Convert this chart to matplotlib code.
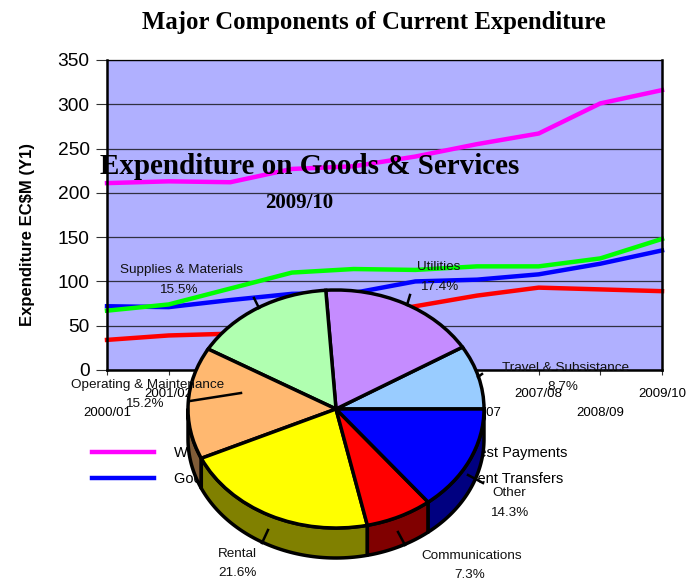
#!/usr/bin/env python
"""Current expenditure lines with the goods & services 3-D pie sitting on top."""

import numpy as np
import matplotlib
matplotlib.use("Agg")
import matplotlib.pyplot as plt
from matplotlib.lines import Line2D
from matplotlib.patches import Polygon, Wedge

#+++ Data
years = ["2000/01", "2001/02", "2002/03", "2003/04", "2004/05", "2005/06", "2006/07", "2007/08", "2008/09", "2009/10"]
wages = [211, 213, 212, 227, 230, 241, 255, 267, 301, 316]
goods = [72, 71, 79, 86, 87, 100, 102, 108, 120, 135]
transfers = [67, 74, 92, 110, 114, 113, 117, 117, 126, 148]
interest = [34, 39, 41, 50, 60, 72, 84, 93, 91, 89]

pie_labels = ["Travel & Subsistance", "Utilities", "Supplies & Materials", "Operating & Maintenance", "Rental", "Communications", "Other"]
pie_values = [8.7, 17.4, 15.5, 15.2, 21.6, 7.3, 14.3]
#---

#+++ Styling
W, H = 699, 582
SANS = "Liberation Sans"
SERIF = "Liberation Serif"
pie_colors = ["#99CCFF", "#C58CFF", "#B0FFB0", "#FFB870", "#FFFF00", "#FF0000", "#0000FF"]
side_colors = ["#4D6680", "#624680", "#588058", "#805C38", "#808000", "#800000", "#000080"]
# centre of each pie label in image pixels: (x, name y, percent x, percent y)
label_pos = [(566, 368, 563, 387), (439, 267, 439, 287), (181, 270, 178, 290), (148, 385, 144, 404),
             (237, 554, 237, 573), (472, 556, 470, 575), (509, 493, 509, 513)]
leaders = [((478, 377), (482, 374)), ((407, 305), (410, 295)), ((259, 308), (254, 298)), ((190, 401), (241, 393)),
           ((268, 530), (262, 543)), ((398, 532), (405, 545)), ((468, 475), (483, 483))]


def px_rect(left, top, right, bottom):
    return [left / W, 1 - bottom / H, (right - left) / W, (bottom - top) / H]


def px_text(x, y, s, **kw):
    fig.text(x / W, 1 - y / H, s, ha="center", va="center", **kw)
#---

#+++ Line chart
fig = plt.figure(figsize=(W / 100, H / 100), dpi=100)
ax = fig.add_axes(px_rect(107, 60, 662, 370), facecolor="#B0B0FF")
x = np.arange(len(years))
ax.plot(x, wages, color="#FF00FF", lw=3.2, solid_joinstyle="miter", label="Wages & Salaries", clip_on=False)
ax.plot(x, goods, color="#0000FF", lw=3.2, solid_joinstyle="miter", label="Goods & Services", clip_on=False)
ax.plot(x, interest, color="#FF0000", lw=3.2, solid_joinstyle="miter", label="Interest Payments", clip_on=False)
ax.plot(x, transfers, color="#00FF00", lw=3.2, solid_joinstyle="miter", label="Current Transfers", clip_on=False)

ax.set_xlim(0, len(years) - 1)
ax.set_ylim(0, 350)
ax.set_yticks(range(0, 351, 50))
ax.yaxis.grid(True, color="#303040", lw=0.9)
ax.set_axisbelow(True)
ax.tick_params(axis="y", labelsize=13.8, length=8, width=0.8, pad=4.5, color="#303030")
for tick_label in ax.get_yticklabels():
    tick_label.set_fontfamily(SANS)
ax.set_ylabel("Expenditure EC$M (Y1)", fontfamily=SANS, fontweight="bold", fontsize=12, labelpad=16.5, y=135 / 310)

# year labels are staggered on two rows, even ones on the lower row with a long tick
ax.set_xticks(x, years, fontfamily=SANS, fontsize=9.5)
ax.tick_params(axis="x", width=0.8, color="#303030")
for i, tick in enumerate(ax.xaxis.get_major_ticks()):
    tick.tick1line.set_markersize(20 if i % 2 == 0 else 7)
    tick.set_pad(23 if i % 2 == 0 else 9.5)

ax.spines["top"].set_linewidth(0.9)
for side in ("left", "right", "bottom"):
    ax.spines[side].set_linewidth(1.8)

ax.legend(loc="upper left", bbox_to_anchor=(-15 / 555, -0.245), ncol=2, frameon=False,
          prop={"family": SANS, "size": 10.5}, handlelength=4.25, handletextpad=1.35, columnspacing=5.2,
          labelspacing=0.82, borderaxespad=0, borderpad=0)

px_text(374, 23, "Major Components of Current Expenditure", family=SERIF, weight="bold", fontsize=17.8)
px_text(310, 166, "Expenditure on Goods & Services", family=SERIF, weight="bold", fontsize=21)
px_text(299, 203, "2009/10", family=SERIF, weight="bold", fontsize=15)
#---

#+++ Pie: unit circle stretched to an ellipse by its axes, with a side wall below
rx, ry, depth = 148, 119, 30
cx, cy = 336, 409
pie_ax = fig.add_axes(px_rect(cx - rx - 3, cy - ry - 3, cx + rx + 3, cy + ry + depth + 3))
pie_ax.axis("off")
pie_ax.set_xlim(-(rx + 3) / rx, (rx + 3) / rx)
pie_ax.set_ylim(-(ry + depth + 3) / ry, (ry + 3) / ry)
drop = depth / ry

bounds = np.cumsum([0] + pie_values) / sum(pie_values) * 360
for start, end, side_color in zip(bounds[:-1], bounds[1:], side_colors):
    lo, hi = max(start, 180), min(end, 360)
    if hi <= lo:
        continue
    t = np.radians(np.linspace(lo, hi, 60))
    top = np.column_stack([np.cos(t), np.sin(t)])
    bottom = (top - [0, drop])[::-1]
    pie_ax.add_patch(Polygon(np.vstack([top, bottom]), closed=True, fc=side_color, ec="black", lw=2.5, joinstyle="round"))

for start, end, color in zip(bounds[:-1], bounds[1:], pie_colors):
    pie_ax.add_patch(Wedge((0, 0), 1, start, end, fc=color, ec="black", lw=2.5))

for (p0, p1) in leaders:
    fig.add_artist(Line2D([p0[0] / W, p1[0] / W], [1 - p0[1] / H, 1 - p1[1] / H], color="black", lw=1.8))

for name, value, (x0, y0, x1, y1) in zip(pie_labels, pie_values, label_pos):
    px_text(x0, y0, name, family=SANS, fontsize=9.7, color="#111111")
    px_text(x1, y1, f"{value}%", family=SANS, fontsize=9.7, color="#111111")
#---

fig.savefig("out.png", dpi=100, facecolor="white")
